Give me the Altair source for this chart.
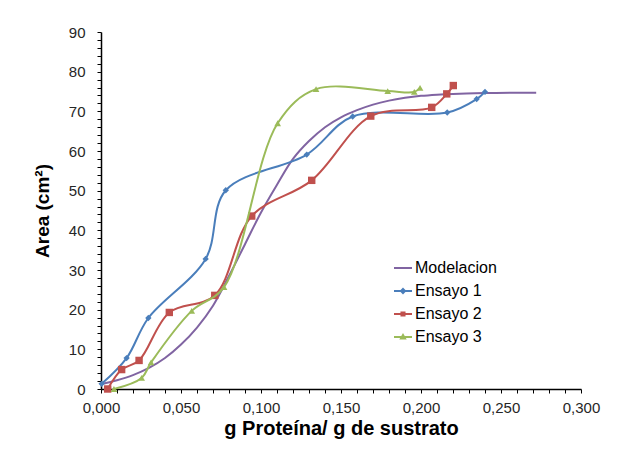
import altair as alt
import pandas as pd

# ---------------- data ----------------
series_names = ["Modelacion", "Ensayo  1", "Ensayo  2", "Ensayo  3"]
series_colors = ["#8064A2", "#4A7EBB", "#C0504D", "#9BBB59"]

mod_x = [0.000, 0.010, 0.020, 0.030, 0.040, 0.050, 0.060, 0.070, 0.080, 0.090,
         0.100, 0.110, 0.120, 0.130, 0.140, 0.150, 0.160, 0.170, 0.180, 0.190,
         0.200, 0.210, 0.220, 0.240, 0.260, 0.272]
mod_y = [1.2, 2.2, 3.5, 5.3, 7.8, 11.2, 15.5, 21.0, 28.5, 36.5,
         44.5, 51.5, 58.0, 62.5, 66.0, 68.5, 70.3, 71.7, 72.7, 73.4,
         73.9, 74.2, 74.4, 74.6, 74.7, 74.7]

e1_x = [0.0004, 0.016, 0.0296, 0.0654, 0.078, 0.1286, 0.1573, 0.2164, 0.2348, 0.240]
e1_y = [1.3, 7.8, 17.9, 32.8, 50.1, 59.1, 68.7, 69.7, 73.1, 74.9]

e2_x = [0.0042, 0.0129, 0.0238, 0.0427, 0.0711, 0.0942, 0.1317, 0.1686, 0.2067, 0.2161, 0.2202]
e2_y = [0.0, 4.9, 7.2, 19.3, 23.6, 43.6, 52.6, 68.8, 71.0, 74.4, 76.5]

e3_x = [0.0081, 0.0254, 0.0313, 0.0567, 0.0769, 0.1104, 0.1344, 0.1792, 0.1958, 0.1994]
e3_y = [0.0, 2.8, 6.7, 19.7, 25.7, 67.0, 75.6, 75.1, 74.9, 75.9]

x_ticks = [i / 100 for i in range(31)]
y_ticks = list(range(0, 91, 2))

legend_paths = [
    "M-1,0L1,0",
    "M-1,0L1,0M0,-0.22L0.22,0L0,0.22L-0.22,0Z",
    "M-1,0L1,0M-0.17,-0.17L0.17,-0.17L0.17,0.17L-0.17,0.17Z",
    "M-1,0L1,0M0,-0.21L0.22,0.17L-0.22,0.17Z",
]
markers = [None, "diamond", "square", "triangle-up"]
marker_sizes = [0, 40, 55, 45]

# ---------------- table ----------------
rows = []
for name, xs, ys in zip(series_names, [mod_x, e1_x, e2_x, e3_x], [mod_y, e1_y, e2_y, e3_y]):
    for i, (a, b) in enumerate(zip(xs, ys)):
        rows.append({"Serie": name, "x": a, "y": b, "orden": i})
df = pd.DataFrame(rows)

x_enc = alt.X(
    "x:Q",
    scale=alt.Scale(domain=[0, 0.3], nice=False, zero=False),
    axis=alt.Axis(
        values=x_ticks,
        labelExpr="round(datum.value*1000) % 50 == 0 ? replace(format(datum.value, '.3f'), '.', ',') : ''",
        title="g Proteína/ g de sustrato",
        titleFontSize=20,
        grid=False,
        tickSize=4,
        labelPadding=7,
        titlePadding=3,
        labelFlush=False,
        labelOverlap=False,
    ),
)
y_enc = alt.Y(
    "y:Q",
    scale=alt.Scale(domain=[0, 90], nice=False),
    axis=alt.Axis(
        values=y_ticks,
        labelExpr="datum.value % 10 == 0 ? datum.label : ''",
        title="Area (cm²)",
        grid=False,
        tickSize=4,
        labelPadding=12,
        titlePadding=16,
        labelOverlap=False,
    ),
)

layers = []
for name, col, mk, ms in zip(series_names, series_colors, markers, marker_sizes):
    base = alt.Chart(df).transform_filter(alt.datum.Serie == name)
    layers.append(
        base.mark_line(interpolate="catmull-rom", color=col, strokeWidth=2).encode(
            x=x_enc, y=y_enc, order=alt.Order("orden:Q")
        )
    )
    if mk is not None:
        layers.append(
            base.mark_point(shape=mk, filled=True, color=col, size=ms, opacity=1).encode(
                x=x_enc, y=y_enc
            )
        )

leg = alt.Legend(
    title=None,
    orient="none",
    legendX=292,
    legendY=226,
    labelFontSize=16,
    labelColor="#000000",
    symbolSize=324,
    symbolStrokeWidth=2,
    rowPadding=5,
    labelOffset=2,
)
legend_layer = (
    alt.Chart(df)
    .transform_filter("false")
    .mark_point(filled=True, opacity=1)
    .encode(
        x=x_enc,
        y=y_enc,
        fill=alt.Fill("Serie:N", scale=alt.Scale(domain=series_names, range=series_colors), legend=leg),
        stroke=alt.Stroke("Serie:N", scale=alt.Scale(domain=series_names, range=series_colors), legend=leg),
        shape=alt.Shape("Serie:N", scale=alt.Scale(domain=series_names, range=legend_paths), legend=leg),
    )
)
layers.append(legend_layer)

chart = (
    alt.layer(*layers)
    .properties(
        width=480,
        height=357,
        autosize=alt.AutoSizeParams(type="none"),
        padding={"left": 93, "top": 24, "right": 30, "bottom": 53},
        background="white",
    )
    .configure(font="Liberation Sans")
    .configure_view(stroke=None)
    .configure_axis(
        domainColor="#000000",
        domainWidth=1.5,
        tickColor="#000000",
        tickWidth=1,
        labelFontSize=15,
        labelColor="#262626",
        titleFontSize=19,
        titleFontWeight="bold",
        titleColor="#000000",
    )
)

chart.save("out.html", embed_options={"renderer": "svg", "actions": False})
